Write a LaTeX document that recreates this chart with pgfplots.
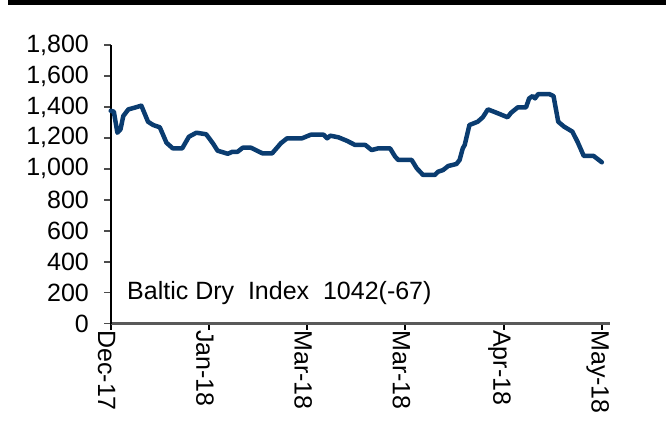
\documentclass[border=0pt]{standalone}
\usepackage{fontspec}
\setmainfont{Liberation Sans}
\usepackage{pgfplots}
\pgfplotsset{compat=1.18}
\definecolor{bdi}{RGB}{10,60,112}
\begin{document}
\begin{tikzpicture}
\path[use as bounding box] (0,0) rectangle (334pt,216.5pt);
\draw[line width=2.35pt] (5.3pt,230pt) |- (332pt,215.3pt) -- (332pt,230pt);
\begin{axis}[
  scale only axis,
  width=249.5pt, height=139.25pt,
  at={(55.35pt,54.75pt)}, anchor=south west,
  xmin=0, xmax=127, ymin=0, ymax=1800,
  axis x line*=bottom, axis y line*=left,
  x axis line style={-, line width=1.1pt, draw=black!65},
  y axis line style={-, line width=1pt, draw=black},
  xtick={0,25,50,75,100,125},
  xticklabels={Dec-17,Jan-18,Mar-18,Mar-18,Apr-18,May-18},
  ytick={0,200,...,1800},
  tick align=outside,
  major tick length=3.2pt,
  x tick style={draw=black, line width=0.9pt},
  y tick style={draw=black!70, line width=0.9pt},
  /pgf/number format/.cd, 1000 sep={,}, assume math mode=true,
  /pgfplots/.cd,
  tick label style={font=\fontsize{12.5}{13}\selectfont},
  yticklabel style={anchor=east, inner sep=0pt, xshift=-7.5pt},
  xticklabel style={rotate=-90, anchor=west, inner sep=0pt, yshift=-2pt},
  clip=false,
]
\addplot[bdi, line width=2.25pt, line join=round, line cap=round] coordinates {
(0,1375) (0.8,1369) (1.7,1233) (2.5,1255) (3.2,1341) (4.5,1384) (6.1,1395)
(7.8,1408) (9.5,1304) (10.8,1283) (12.5,1268) (14.2,1168) (15.8,1132)
(18.2,1132) (19.9,1207) (21.8,1233) (24.3,1223) (26.0,1165) (27.2,1117)
(29.8,1097) (31.0,1110) (32.3,1110) (33.6,1136) (35.7,1136) (38.6,1100)
(41.1,1100) (43.3,1165) (44.9,1197) (48.7,1197) (50.9,1220) (54.2,1220)
(55.1,1197) (55.9,1214) (58.0,1203) (60.1,1181) (62.2,1154) (64.8,1154)
(66.4,1121) (68.1,1132) (71.1,1132) (72.4,1078) (73.2,1057) (76.6,1057)
(77.9,1003) (79.5,960) (82.5,960) (83.3,981) (84.6,992) (85.9,1018)
(88.0,1031) (88.8,1057) (89.6,1132) (90.1,1154) (91.3,1283) (93.4,1304)
(94.7,1333) (96.0,1384) (98.5,1359) (101.0,1333) (101.9,1362) (103.6,1397)
(105.7,1397) (106.5,1455) (107.4,1470) (108.0,1455) (108.8,1483) (111.6,1483)
(112.7,1470) (113.9,1304) (115.4,1272) (117.5,1240) (118.8,1175) (120.4,1083)
(122.9,1083) (125,1042)
};
\node[anchor=base west, inner sep=0pt, font=\fontsize{12.5}{13}\selectfont] at (axis cs:4.1,152) {Baltic Dry\ \ Index\ \ 1042(-67)};
\end{axis}
\end{tikzpicture}
\end{document}
